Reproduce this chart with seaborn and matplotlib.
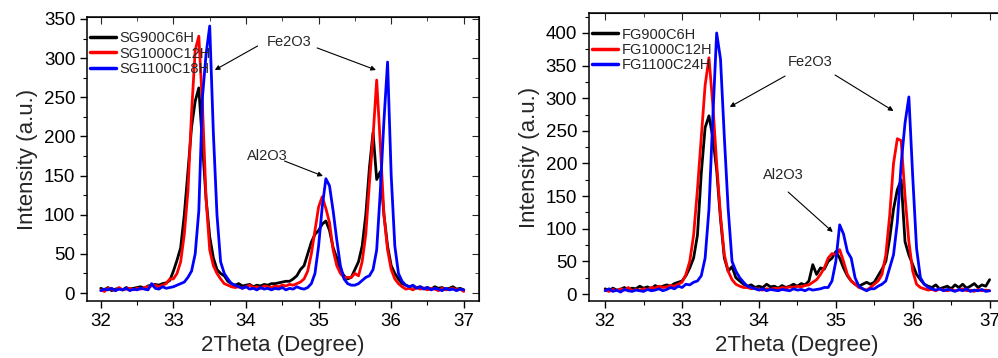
import numpy as np
import pandas as pd
import matplotlib
matplotlib.use("Agg")
import matplotlib.pyplot as plt
import seaborn as sns
from matplotlib.ticker import MultipleLocator

sns.set_style("white")
plt.rcParams['font.family'] = ['Liberation Sans', 'DejaVu Sans']

# 2Theta scan grid (degrees), 0.05 step
two_theta = np.round(np.linspace(32.0, 37.0, 101), 2)

# ---- left panel (SG samples) ----
sg_labels = ["SG900C6H", "SG1000C12H", "SG1100C18H"]
sg900 = [6, 4, 7, 3, 5, 6, 4, 7, 5, 6,
         7, 8, 6, 9, 10, 11, 10, 12, 13, 16,
         28, 42, 58, 100, 155, 212, 245, 262, 190, 120,
         72, 45, 30, 25, 22, 15, 12, 10, 12, 9,
         10, 11, 8, 10, 9, 11, 10, 12, 12, 13,
         14, 15, 15, 18, 22, 30, 35, 50, 65, 75,
         80, 88, 92, 80, 58, 45, 30, 22, 18, 20,
         30, 40, 60, 100, 160, 205, 145, 155, 100, 60,
         35, 25, 18, 12, 10, 8, 9, 7, 8, 6,
         7, 5, 8, 6, 7, 5, 6, 8, 5, 6,
         4]
sg1000 = [4, 2, 6, 5, 3, 7, 4, 5, 6, 4,
          6, 5, 7, 8, 9, 10, 8, 10, 12, 18,
          18, 25, 40, 75, 130, 230, 310, 328, 240, 120,
          55, 35, 25, 18, 12, 10, 8, 7, 8, 6,
          8, 10, 7, 8, 6, 9, 8, 7, 9, 8,
          10, 9, 11, 10, 12, 14, 18, 28, 50, 80,
          110, 123, 108, 90, 55, 35, 25, 20, 20, 20,
          25, 22, 40, 75, 140, 200, 272, 190, 100, 55,
          30, 18, 12, 8, 5, 6, 4, 7, 5, 6,
          4, 6, 5, 3, 6, 4, 5, 6, 4, 5,
          2]
sg1100 = [3, 5, 4, 6, 3, 5, 4, 6, 3, 5,
          4, 6, 5, 4, 12, 6, 5, 8, 6, 7,
          8, 10, 12, 14, 20, 28, 50, 105, 250, 305,
          341, 205, 100, 40, 25, 18, 12, 10, 8, 6,
          8, 5, 6, 4, 7, 5, 6, 4, 6, 5,
          7, 4, 6, 5, 8, 6, 5, 7, 12, 25,
          60, 110, 146, 137, 105, 68, 35, 18, 12, 10,
          10, 12, 16, 20, 22, 30, 55, 130, 220, 295,
          150, 60, 25, 15, 10, 8, 10, 6, 8, 5,
          7, 4, 6, 5, 3, 6, 4, 5, 3, 5,
          4]

# ---- right panel (FG samples) ----
fg_labels = ["FG900C6H", "FG1000C12H", "FG1100C24H"]
fg900 = [8, 5, 9, 6, 7, 10, 6, 9, 8, 12,
         9, 11, 8, 13, 10, 12, 14, 12, 16, 18,
         20, 28, 40, 55, 90, 185, 255, 273, 240, 190,
         115, 55, 35, 42, 25, 20, 15, 12, 14, 10,
         12, 10, 15, 11, 12, 9, 13, 10, 12, 15,
         12, 16, 14, 20, 45, 30, 40, 38, 50, 55,
         65, 55, 40, 28, 20, 15, 12, 15, 18, 15,
         18, 28, 38, 50, 85, 130, 160, 175, 80, 60,
         45, 30, 22, 15, 12, 10, 14, 8, 10, 12,
         8, 14, 10, 15, 9, 12, 16, 10, 14, 12,
         22]
fg1000 = [6, 4, 7, 5, 8, 6, 10, 5, 7, 6,
          8, 7, 10, 9, 12, 10, 11, 13, 12, 15,
          18, 30, 50, 90, 160, 240, 320, 362, 290, 200,
          120, 60, 35, 22, 15, 12, 10, 10, 8, 9,
          7, 6, 8, 7, 9, 8, 10, 9, 11, 10,
          12, 11, 13, 14, 18, 22, 30, 40, 55, 62,
          60, 68, 50, 30, 20, 15, 10, 8, 6, 10,
          15, 20, 30, 60, 120, 200, 238, 235, 150, 80,
          35, 15, 10, 8, 6, 7, 5, 8, 6, 5,
          7, 5, 6, 8, 5, 6, 4, 7, 5, 6,
          5]
fg1100 = [5, 8, 4, 6, 3, 7, 5, 4, 6, 5,
          4, 7, 5, 6, 8, 5, 7, 10, 8, 12,
          10, 15, 14, 18, 20, 28, 55, 130, 270, 400,
          360, 240, 130, 50, 35, 25, 18, 12, 10, 8,
          6, 8, 5, 7, 6, 5, 7, 6, 5, 8,
          6, 7, 5, 8, 6, 7, 8, 10, 10, 20,
          50, 106, 92, 65, 55, 25, 12, 8, 5, 8,
          8, 12, 15, 20, 40, 60, 110, 200, 262, 302,
          180, 70, 25, 15, 10, 8, 6, 8, 5, 7,
          6, 4, 7, 5, 8, 4, 6, 5, 7, 4,
          5]

colors = ["#000000", "#ff0000", "#0000ff"]


def long_df(labels, series):
    frames = []
    for lab, vals in zip(labels, series):
        frames.append(pd.DataFrame({"x": two_theta, "y": vals, "sample": lab}))
    return pd.concat(frames, ignore_index=True)


fig = plt.figure(figsize=(9.98, 3.58), dpi=100)
ax1 = fig.add_axes([0.0872, 0.1592, 0.3928, 0.7933])
ax2 = fig.add_axes([0.5902, 0.1592, 0.4168, 0.8045])


def style_axes(ax, df, ymax_major, ylim, xlim):
    sns.lineplot(data=df, x="x", y="y", hue="sample", palette=colors,
                 linewidth=2.0, ax=ax, estimator=None, sort=False)
    ax.set_xlim(*xlim)
    ax.set_ylim(*ylim)
    ax.xaxis.set_major_locator(MultipleLocator(1))
    ax.xaxis.set_minor_locator(MultipleLocator(0.5))
    ax.yaxis.set_major_locator(MultipleLocator(50))
    ax.yaxis.set_minor_locator(MultipleLocator(25))
    ax.set_yticks(np.arange(0, ymax_major + 1, 50))
    ax.tick_params(which="both", direction="out", bottom=True, left=True,
                   top=False, right=False, labelsize=13.5, colors="black")
    ax.tick_params(which="major", length=5, width=1.0)
    ax.tick_params(which="minor", length=3, width=0.8)
    ax.set_xlabel("2Theta (Degree)", fontsize=16, labelpad=4)
    ax.set_ylabel("Intensity (a.u.)", fontsize=16, labelpad=4)
    for s in ax.spines.values():
        s.set_linewidth(1.1)
        s.set_color("black")
    leg = ax.legend(loc="upper left", bbox_to_anchor=(-0.015, 0.98), frameon=False,
                    fontsize=10.5, handlelength=1.8, handletextpad=0.25,
                    labelspacing=0.08, borderaxespad=0.2)
    for h in leg.get_lines():
        h.set_linewidth(2.5)


style_axes(ax1, long_df(sg_labels, [sg900, sg1000, sg1100]), 350,
           (-10.2, 352.5), (31.81, 37.21))
style_axes(ax2, long_df(fg_labels, [fg900, fg1000, fg1100]), 400,
           (-10.7, 430.6), (31.79, 37.20))

# inward ticks on the top and right spines
for ax in (ax1, ax2):
    tx = ax.secondary_xaxis("top")
    tx.xaxis.set_major_locator(MultipleLocator(1))
    tx.xaxis.set_minor_locator(MultipleLocator(0.5))
    tx.tick_params(which="both", direction="in", labeltop=False)
    tx.tick_params(which="major", length=5)
    tx.tick_params(which="minor", length=3)
    ty = ax.secondary_yaxis("right")
    ty.yaxis.set_major_locator(MultipleLocator(50))
    ty.yaxis.set_minor_locator(MultipleLocator(25))
    ty.tick_params(which="both", direction="in", labelright=False)
    ty.tick_params(which="major", length=5)
    ty.tick_params(which="minor", length=3)

arrow = dict(arrowstyle="-|>", color="black", lw=0.8, mutation_scale=7,
             shrinkA=0, shrinkB=0)

# left annotations
ax1.text(34.59, 320.6, "Fe2O3", fontsize=10.5, ha="center", va="center")
ax1.annotate("", xy=(33.57, 284.8), xytext=(34.16, 315.5), arrowprops=arrow)
ax1.annotate("", xy=(35.79, 284.8), xytext=(34.98, 313.0), arrowprops=arrow)
ax1.text(34.30, 175.0, "Al2O3", fontsize=10.5, ha="center", va="center")
ax1.annotate("", xy=(35.06, 149.4), xytext=(34.53, 168.6), arrowprops=arrow)

# right annotations
ax2.text(34.66, 355.6, "Fe2O3", fontsize=10.5, ha="center", va="center")
ax2.annotate("", xy=(33.62, 286.6), xytext=(34.34, 334.0), arrowprops=arrow)
ax2.annotate("", xy=(35.75, 280.5), xytext=(34.99, 335.6), arrowprops=arrow)
ax2.text(34.32, 182.4, "Al2O3", fontsize=10.5, ha="center", va="center")
ax2.annotate("", xy=(34.96, 95.0), xytext=(34.38, 156.3), arrowprops=arrow)

fig.savefig("out.png", dpi=100)
